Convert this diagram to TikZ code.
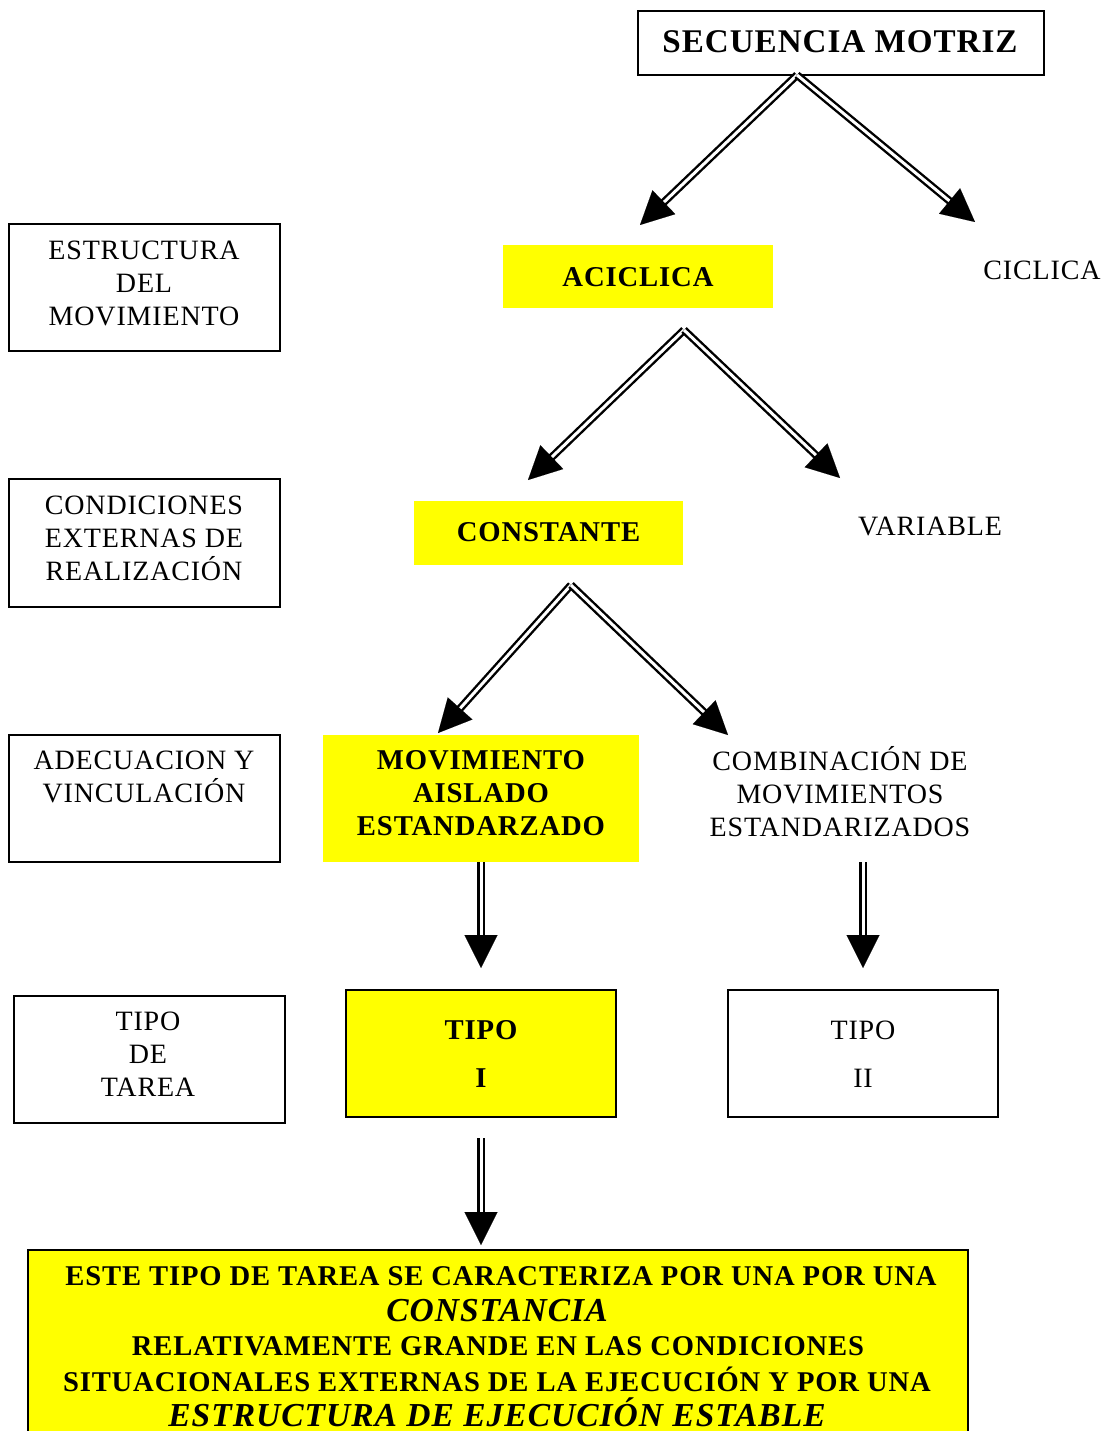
\documentclass[tikz,border=0pt]{standalone}
\usepackage{fontspec}
\setmainfont{Liberation Serif}[LetterSpace=3]
\usetikzlibrary{arrows.meta}
\definecolor{hiyel}{RGB}{255,255,0}
\tikzset{
  box/.style={draw=black, line width=1.5pt, inner sep=0pt},
  ybox/.style={fill=hiyel, inner sep=0pt},
  yboxd/.style={fill=hiyel, draw=black, line width=1.5pt, inner sep=0pt},
  txt/.style={align=center, inner sep=0pt, font=\fontsize{28}{33}\selectfont},
  btxt/.style={align=center, inner sep=0pt, font=\fontsize{28.7}{33}\selectfont\bfseries},
  bigit/.style={align=center, inner sep=0pt, font=\fontsize{33.5}{38}\selectfont\bfseries\itshape},
  smb/.style={align=center, inner sep=0pt, font=\fontsize{28.6}{33}\selectfont\bfseries},
  dbl/.style={preaction={draw=black, double=white, line width=2.4pt, double distance=3pt, shorten >=26pt},
              postaction={draw=white, line width=0.05pt, -{Triangle[length=33pt,width=33pt,color=black]}}}
}
\begin{document}
\begin{tikzpicture}[x=1pt,y=-1pt]
\useasboundingbox (0,0) rectangle (1107,1431);
% title
\node[box, minimum width=406pt, minimum height=64pt] (sec) at (841,43) {};
\node[btxt, font=\fontsize{33.1}{36}\selectfont\bfseries] (sect) at (840,42) {SECUENCIA MOTRIZ};
% left boxes
\node[box, minimum width=271pt, minimum height=127pt] (lb1) at (144.5,287.5) {};
\node[txt] (lt1) at (144,283) {ESTRUCTURA\\DEL\\MOVIMIENTO};
\node[box, minimum width=271pt, minimum height=128pt] (lb2) at (144.5,543) {};
\node[txt] (lt2) at (144,538) {CONDICIONES\\EXTERNAS DE\\REALIZACIÓN};
\node[box, minimum width=271pt, minimum height=127pt] (lb3) at (144.5,798.5) {};
\node[txt] (lt3) at (144,777) {ADECUACION Y\\VINCULACIÓN};
\node[box, minimum width=271pt, minimum height=127pt] (lb4) at (149.5,1059.5) {};
\node[txt] (lt4) at (148,1054) {TIPO\\DE\\TAREA};
% level 1
\node[ybox, minimum width=270pt, minimum height=63pt] (aci) at (638,276.5) {};
\node[btxt] (acit) at (638,277) {ACICLICA};
\node[txt] (cic) at (1042,270) {CICLICA};
% level 2
\node[ybox, minimum width=269pt, minimum height=64pt] (con) at (548.5,533) {};
\node[btxt] (cont) at (548.5,532) {CONSTANTE};
\node[txt] (var) at (930,526) {VARIABLE};
% level 3
\node[ybox, minimum width=316pt, minimum height=127pt] (mov) at (481,798.5) {};
\node[btxt] (movt) at (481,793) {MOVIMIENTO\\AISLADO\\ESTANDARZADO};
\node[txt] (comb) at (840,792) {COMBINACIÓN DE\\MOVIMIENTOS\\ESTANDARIZADOS};
% level 4
\node[yboxd, minimum width=270pt, minimum height=127pt] (t1) at (481,1053.5) {};
\node[btxt, font=\fontsize{28.7}{48}\selectfont\bfseries] (t1t) at (481,1054) {TIPO\\I};
\node[box, minimum width=270pt, minimum height=127pt] (t2) at (863,1053.5) {};
\node[txt, font=\fontsize{28}{48}\selectfont] (t2t) at (863,1054) {TIPO\\II};
% bottom box
\node[yboxd, minimum width=940pt, minimum height=194pt] (bot) at (498,1347) {};
\node[smb] (b1) at (501,1276) {ESTE TIPO DE TAREA SE CARACTERIZA POR UNA POR UNA};
\node[bigit] (b2) at (497,1311) {CONSTANCIA};
\node[smb] (b3) at (498,1346) {RELATIVAMENTE GRANDE EN LAS CONDICIONES};
\node[smb] (b4) at (497,1379) {SITUACIONALES EXTERNAS DE LA EJECUCIÓN Y POR UNA};
\node[bigit, text depth=0pt] (b5) at (497,1412) {ESTRUCTURA DE EJECUCIÓN ESTABLE};
% arrow coordinates
\coordinate (s1) at (797,75);
\coordinate (e1a) at (640,225);
\coordinate (e1b) at (975,222);
\coordinate (s2) at (684,330);
\coordinate (e2a) at (528,480);
\coordinate (e2b) at (840,478);
\coordinate (s3) at (571,585);
\coordinate (e3a) at (438,733);
\coordinate (e3b) at (728,735);
\coordinate (s4) at (481,862);
\coordinate (e4) at (481,968);
\coordinate (s5) at (863,862);
\coordinate (e5) at (863,968);
\coordinate (s6) at (481,1138);
\coordinate (e6) at (481,1245);
\path[dbl] (s1) -- (e1a);
\path[dbl] (s1) -- (e1b);
\path[dbl] (s2) -- (e2a);
\path[dbl] (s2) -- (e2b);
\path[dbl] (s3) -- (e3a);
\path[dbl] (s3) -- (e3b);
\path[dbl] (s4) -- (e4);
\path[dbl] (s5) -- (e5);
\path[dbl] (s6) -- (e6);
\end{tikzpicture}
\end{document}
